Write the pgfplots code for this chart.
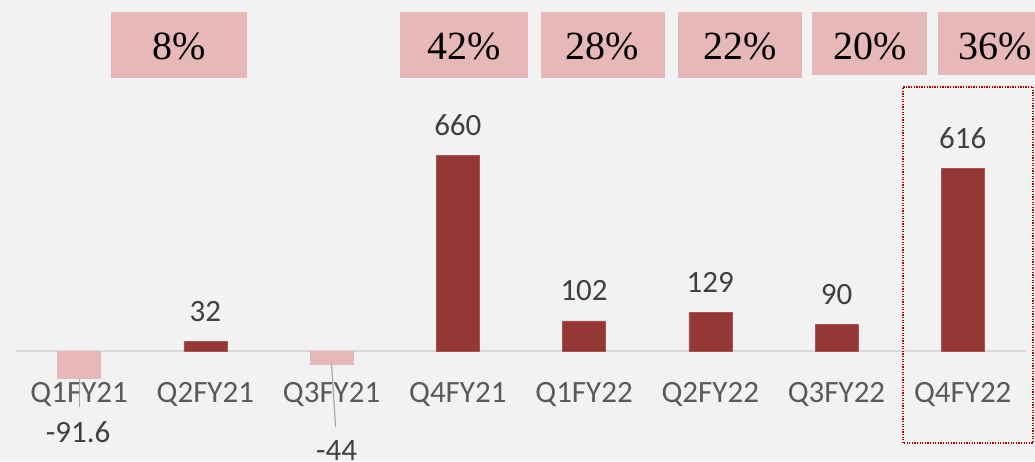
\documentclass[border=0pt]{standalone}
\usepackage{fontspec}
\setmainfont{Carlito}
\newfontfamily\pctfont{Liberation Serif}
\usepackage{pgfplots}
\pgfplotsset{compat=1.18}

\definecolor{bg}{HTML}{F2F2F2}
\definecolor{darkbar}{HTML}{953735}
\definecolor{pinkbar}{HTML}{E6B8B7}
\definecolor{lbl}{HTML}{404040}
\definecolor{cat}{HTML}{595959}
\definecolor{axgray}{HTML}{D9D9D9}
\definecolor{leader}{HTML}{A6A6A6}
\definecolor{boxred}{HTML}{C00000}

\newcommand{\lblfont}{\fontsize{31}{37}\selectfont}

\begin{document}
\begin{tikzpicture}
\useasboundingbox (0,0) rectangle (1035pt,461pt);
\fill[bg] (0,0) rectangle (1035pt,461pt);

\begin{axis}[
  at={(16pt,0pt)}, anchor=south west,
  scale only axis, width=1010pt, height=461pt,
  xmin=-0.5, xmax=7.5, ymin=-370, ymax=1182,
  axis x line=middle, axis y line=none,
  x axis line style={draw=axgray, line width=1.5pt, -},
  xtick={0,...,7},
  xticklabels={Q1FY21,Q2FY21,Q3FY21,Q4FY21,Q1FY22,Q2FY22,Q3FY22,Q4FY22},
  major tick length=0pt,
  xticklabel style={font=\lblfont, text=cat, anchor=base, yshift=-51pt, inner sep=0pt},
  ybar, bar width=43pt, bar shift=0pt,
  clip=false,
]
\addplot[fill=darkbar, draw=darkbar!85!white, line width=0.6pt,
  nodes near coords, point meta=explicit symbolic,
  every node near coord/.style={font=\lblfont, text=lbl, anchor=base, yshift=20pt, inner sep=0pt}]
  coordinates {(1,32)[32] (3,660)[660] (4,102)[102] (5,129)[129] (6,90)[90] (7,616)[616]};
\addplot[fill=pinkbar, draw=pinkbar, line width=0.6pt]
  coordinates {(0,-91.6) (2,-44)};

% labels of the negative bars, with leader lines
\draw[leader, line width=1.2pt] (axis cs:0,-91.6) ++(0pt,-0.5pt) -- ++(0pt,-28pt);
\node[font=\lblfont, text=lbl, anchor=base, inner sep=0pt] at (axis cs:0,-91.6) [yshift=-63.8pt, xshift=-1pt] {-91.6};
\draw[leader, line width=1.2pt] (axis cs:2,-44) -- ++(4pt,-63pt);
\node[font=\lblfont, text=lbl, anchor=base, inner sep=0pt] at (axis cs:2,-44) [yshift=-96pt, xshift=5pt] {-44};
\end{axis}

% growth boxes
\foreach \xa/\xb/\yb/\xc/\t in {111/247/383/179/8\%, 400/528/383/464/42\%, 541/665/383/602/28\%,
    678/802/383/740/22\%, 812/927/386/870/20\%, 938/1045/386/995/36\%}{
  \fill[pinkbar] (\xa pt,\yb pt) rectangle (\xb pt,449pt);
  \node[font=\pctfont\fontsize{40}{48}\selectfont, anchor=base, inner sep=0pt] at (\xc pt,401pt) {\t};
}

\draw[boxred, line width=1.3pt, dash pattern=on 1.3pt off 1.3pt] (903pt,18pt) rectangle (1033pt,374pt);
\end{tikzpicture}
\end{document}
